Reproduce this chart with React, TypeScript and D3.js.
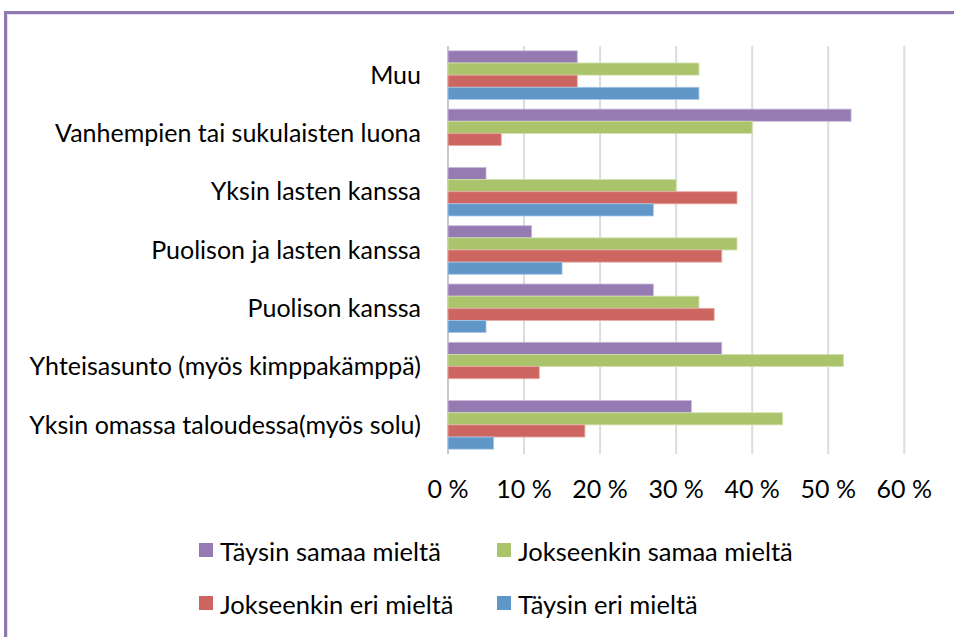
import React from 'react';
import * as d3 from 'd3';

const categories = [
  'Muu',
  'Vanhempien tai sukulaisten luona',
  'Yksin lasten kanssa',
  'Puolison ja lasten kanssa',
  'Puolison kanssa',
  'Yhteisasunto (myös kimppakämppä)',
  'Yksin omassa taloudessa(myös solu)',
];

const seriesNames = ['Täysin samaa mieltä', 'Jokseenkin samaa mieltä', 'Jokseenkin eri mieltä', 'Täysin eri mieltä'];

// values in %, same order as categories
const taysinSamaa = [17, 53, 5, 11, 27, 36, 32];
const jokseenkinSamaa = [33, 40, 30, 38, 33, 52, 44];
const jokseenkinEri = [17, 7, 38, 36, 35, 12, 18];
const taysinEri = [33, 0, 27, 15, 5, 0, 6];

const xTicks = [0, 10, 20, 30, 40, 50, 60];

const colors = ['#957bb1', '#abc46c', '#cd6660', '#6096c8'];
const strokes = ['#c9b9dc', '#d2e2ae', '#e8aaa6', '#a9c8e6'];

const W = 954, H = 637;
const font = 'Lato, Carlito, Calibri, sans-serif';

const App = () => {
  const seriesValues = [taysinSamaa, jokseenkinSamaa, jokseenkinEri, taysinEri];

  const xScale = d3.scaleLinear().domain([0, 60]).range([448, 904.3]);
  const yScale = d3.scaleBand<string>()
    .domain(categories)
    .range([46, 454])
    .paddingInner(0.167)
    .paddingOuter(0.083);
  const subScale = d3.scaleBand<number>()
    .domain([0, 1, 2, 3])
    .range([0, yScale.bandwidth()]);

  const legendPos = [
    { x: 199, y: 543 },
    { x: 497, y: 543 },
    { x: 199, y: 596 },
    { x: 497, y: 596 },
  ];

  return <svg width={W} height={H} style={{ position: 'absolute', left: 0, top: 0, background: '#fff' }}>
    {/* kehys */}
    <path d={`M5.5,${H} V12.5 H${W}`} fill='none' stroke='#8f78ad' strokeWidth={3} />
    <path d={`M7.5,${H} V14.5 H${W}`} fill='none' stroke='#e4dcef' strokeWidth={1} />

    {/* ruudukko */}
    <g>
      {xTicks.map(t => <g key={t}>
        <line
          x1={xScale(t)} x2={xScale(t)}
          y1={46} y2={454}
          stroke={t === 0 ? '#c8c8c8' : '#dcdcdc'}
          strokeWidth={2}
        />
        <text
          x={xScale(t)} y={498}
          textAnchor='middle'
          fontFamily={font}
          fontSize={25}
          fill='#000'
        >{`${t} %`}</text>
      </g>)}
    </g>

    {/* palkit */}
    <g>
      {categories.map((c, ci) => <g key={c}>
        {seriesValues.map((vals, si) => vals[ci] > 0 ? <rect
          key={si}
          x={xScale(0)}
          y={(yScale(c) ?? 0) + (subScale(si) ?? 0)}
          width={xScale(vals[ci]) - xScale(0)}
          height={subScale.bandwidth()}
          fill={colors[si]}
          stroke={strokes[si]}
          strokeWidth={0.8}
        /> : null)}
        <text
          x={421}
          y={(yScale(c) ?? 0) + yScale.bandwidth() / 2}
          dy='0.35em'
          textAnchor='end'
          fontFamily={font}
          fontSize={25}
          fill='#000'
        >{c}</text>
      </g>)}
    </g>

    {/* selite */}
    <g>
      {seriesNames.map((s, i) => <g key={s}>
        <rect x={legendPos[i].x} y={legendPos[i].y} width={14} height={14} fill={colors[i]} />
        <text
          x={legendPos[i].x + 21}
          y={legendPos[i].y + 18}
          fontFamily={font}
          fontSize={25.5}
          fill='#000'
        >{s}</text>
      </g>)}
    </g>
  </svg>;
};

export default App;
